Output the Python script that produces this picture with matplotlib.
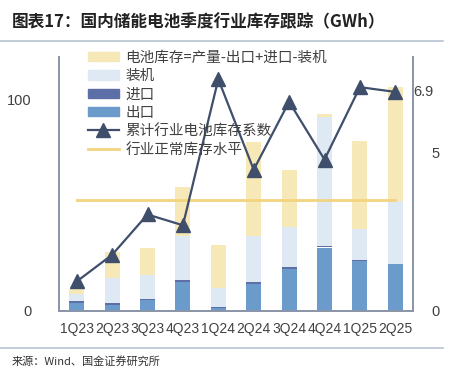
import matplotlib
matplotlib.use("Agg")
import matplotlib.pyplot as plt
from matplotlib.lines import Line2D
from matplotlib.patches import Patch
import numpy as np

plt.rcParams['font.family'] = ['Noto Sans CJK SC', 'DejaVu Sans']

categories = ["1Q23", "2Q23", "3Q23", "4Q23", "1Q24", "2Q24", "3Q24", "4Q24", "1Q25", "2Q25"]
export_vals = [4.0, 3.0, 5.0, 13.8, 1.2, 12.8, 20.0, 30.0, 23.5, 22.0]
import_vals = [0.7, 0.7, 0.8, 0.8, 0.8, 0.8, 0.8, 0.8, 0.7, 0.3]
install_vals = [3.5, 12.0, 11.0, 21.0, 9.0, 21.6, 19.0, 61.0, 14.7, 29.5]
inventory_vals = [2.4, 12.0, 13.0, 22.8, 20.0, 44.6, 27.0, 1.2, 41.3, 54.0]
coef_vals = [0.93, 1.77, 3.04, 2.70, 7.3, 4.45, 6.59, 4.77, 7.05, 6.9]
normal_level = [3.5] * len(categories)

labels = ["电池库存=产量-出口+进口-装机", "装机", "进口", "出口", "累计行业电池库存系数", "行业正常库存水平"]

c_inv = "#F7E8B8"
c_inst = "#DFE9F4"
c_imp = "#5E6EA6"
c_exp = "#6B9BCB"
c_line = "#3F4E6B"
c_norm = "#F2D47E"
spine_c = "#8A94A6"
txt_c = "#404040"
num_font = ['Liberation Sans', 'DejaVu Sans']

fig = plt.figure(figsize=(4.54, 3.71), dpi=100)
ax = fig.add_axes([59/454, 1-311/371, (413-59)/454, (311-57)/371])
ax2 = ax.twinx()

x = np.arange(len(categories))
w = 0.42
b0 = np.zeros(len(categories))
ax.bar(x, export_vals, w, bottom=b0, color=c_exp, zorder=2)
b1 = b0 + np.array(export_vals)
ax.bar(x, import_vals, w, bottom=b1, color=c_imp, zorder=2)
b2 = b1 + np.array(import_vals)
ax.bar(x, install_vals, w, bottom=b2, color=c_inst, zorder=2)
b3 = b2 + np.array(install_vals)
ax.bar(x, inventory_vals, w, bottom=b3, color=c_inv, zorder=2)

ax.set_xlim(-0.5, len(categories) - 0.5)
ax.set_ylim(0, 120)
ax.set_yticks([0, 100])
ax.set_xticks(x)
ax.set_xticklabels(categories, family=num_font, fontsize=10, color=txt_c)
ax.tick_params(axis='y', length=0, pad=20, labelsize=10.5, labelcolor=txt_c)
ax.tick_params(axis='x', length=0, pad=8)
for lab in ax.get_yticklabels():
    lab.set_family(num_font)

ax2.plot(x, normal_level, color=c_norm, lw=2, zorder=3)
ax2.plot(x, coef_vals, color=c_line, lw=1.6, marker='^', markersize=9.5, zorder=4)
ax2.set_ylim(0, 8)
ax2.set_yticks([0, 5])
ax2.tick_params(axis='y', length=0, pad=13, labelsize=10.5, labelcolor=txt_c)
for lab in ax2.get_yticklabels():
    lab.set_family(num_font)
ax2.text(1.0, coef_vals[-1], "6.9", transform=ax2.get_yaxis_transform(),
         ha='left', va='center', fontsize=10.5, color=txt_c, family=num_font)

for a in (ax, ax2):
    a.spines['top'].set_visible(False)
    for s in ('left', 'right', 'bottom'):
        a.spines[s].set_color(spine_c)
        a.spines[s].set_linewidth(1.2)

handles = [Patch(color=c_inv), Patch(color=c_inst), Patch(color=c_imp), Patch(color=c_exp),
           Line2D([], [], color=c_line, lw=1.6, marker='^', markersize=9.5),
           Line2D([], [], color=c_norm, lw=2)]
leg = ax2.legend(handles, labels, loc='upper left', bbox_to_anchor=((88-59)/354, 1.025),
                 frameon=False, fontsize=10.5, handlelength=2.1, handleheight=0.6,
                 handletextpad=0.45, labelspacing=0.3, borderpad=0, borderaxespad=0)
for t in leg.get_texts():
    t.set_color(txt_c)
leg.set_zorder(5)

fig.text(12/454, 1-22/371, "图表17：国内储能电池季度行业库存跟踪（GWh）", fontsize=12,
         fontweight='bold', style='italic', color="#222222", va='center', ha='left')
fig.add_artist(Line2D([0, 443/454], [1-41/371, 1-41/371], color="#B8C4D2", lw=1.2))
fig.add_artist(Line2D([0, 443/454], [1-348/371, 1-348/371], color="#B8C4D2", lw=1.2))
fig.text(12/454, 1-361/371, "来源：Wind、国金证券研究所", fontsize=8, color="#333333",
         va='center', ha='left')

fig.savefig("out.png", dpi=100)
